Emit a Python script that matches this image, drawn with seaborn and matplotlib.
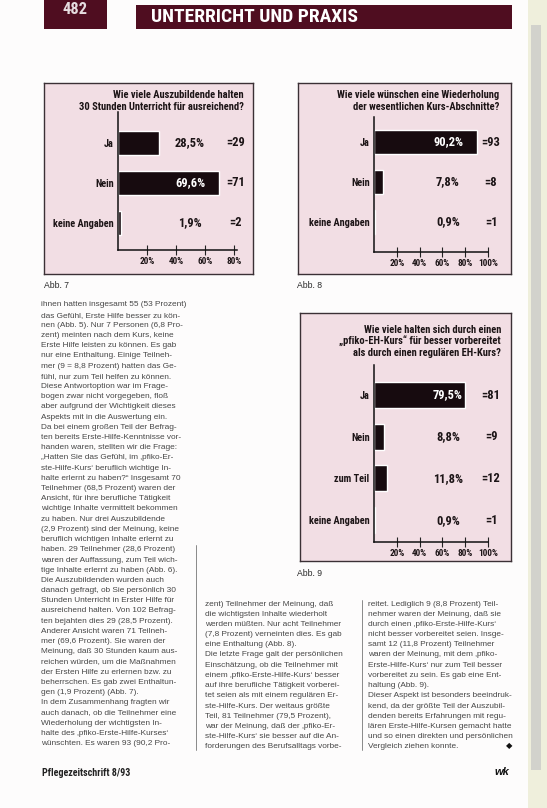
import matplotlib
matplotlib.use("Agg")
import matplotlib.pyplot as plt
import seaborn as sns
import pandas as pd
from matplotlib.patches import Rectangle
from matplotlib.lines import Line2D
from matplotlib import transforms, font_manager
from matplotlib.font_manager import FontProperties

# ______________________ Daten ______________________
abb7_cats = ["Ja", "Nein", "keine Angaben"]
abb7_pct = [28.5, 69.6, 1.9]
abb7_n = [29, 71, 2]
abb7_title = ["Wie viele Auszubildende halten",
              "30 Stunden Unterricht für ausreichend?"]
abb7_ticks = [20, 40, 60, 80]

abb8_cats = ["Ja", "Nein", "keine Angaben"]
abb8_pct = [90.2, 7.8, 0.9]
abb8_n = [93, 8, 1]
abb8_title = ["Wie viele wünschen eine Wiederholung",
              "der wesentlichen Kurs-Abschnitte?"]
abb8_ticks = [20, 40, 60, 80, 100]

abb9_cats = ["Ja", "Nein", "zum Teil", "keine Angaben"]
abb9_pct = [79.5, 8.8, 11.8, 0.9]
abb9_n = [81, 9, 12, 1]
abb9_title = ["Wie viele halten sich durch einen",
              "„pfiko-EH-Kurs“ für besser vorbereitet",
              "als durch einen regulären EH-Kurs?"]
abb9_ticks = [20, 40, 60, 80, 100]

col1 = [
    "ihnen hatten insgesamt 55 (53 Prozent)",
    "das Gefühl, Erste Hilfe besser zu kön-",
    "nen (Abb. 5). Nur 7 Personen (6,8 Pro-",
    "zent) meinten nach dem Kurs, keine",
    "Erste Hilfe leisten zu können. Es gab",
    "nur eine Enthaltung. Einige Teilneh-",
    "mer (9 = 8,8 Prozent) hatten das Ge-",
    "fühl, nur zum Teil helfen zu können.",
    "Diese Antwortoption war im Frage-",
    "bogen zwar nicht vorgegeben, floß",
    "aber aufgrund der Wichtigkeit dieses",
    "Aspekts mit in die Auswertung ein.",
    "Da bei einem großen Teil der Befrag-",
    "ten bereits Erste-Hilfe-Kenntnisse vor-",
    "handen waren, stellten wir die Frage:",
    "„Hatten Sie das Gefühl, im ‚pfiko-Er-",
    "ste-Hilfe-Kurs‘ beruflich wichtige In-",
    "halte erlernt zu haben?“ Insgesamt 70",
    "Teilnehmer (68,5 Prozent) waren der",
    "Ansicht, für ihre berufliche Tätigkeit",
    "wichtige Inhalte vermittelt bekommen",
    "zu haben. Nur drei Auszubildende",
    "(2,9 Prozent) sind der Meinung, keine",
    "beruflich wichtigen Inhalte erlernt zu",
    "haben. 29 Teilnehmer (28,6 Prozent)",
    "waren der Auffassung, zum Teil wich-",
    "tige Inhalte erlernt zu haben (Abb. 6).",
    "Die Auszubildenden wurden auch",
    "danach gefragt, ob Sie persönlich 30",
    "Stunden Unterricht in Erster Hilfe für",
    "ausreichend halten. Von 102 Befrag-",
    "ten bejahten dies 29 (28,5 Prozent).",
    "Anderer Ansicht waren 71 Teilneh-",
    "mer (69,6 Prozent). Sie waren der",
    "Meinung, daß 30 Stunden kaum aus-",
    "reichen würden, um die Maßnahmen",
    "der Ersten Hilfe zu erlernen bzw. zu",
    "beherrschen. Es gab zwei Enthaltun-",
    "gen (1,9 Prozent) (Abb. 7).",
    "In dem Zusammenhang fragten wir",
    "auch danach, ob die Teilnehmer eine",
    "Wiederholung der wichtigsten In-",
    "halte des ‚pfiko-Erste-Hilfe-Kurses‘",
    "wünschten. Es waren 93 (90,2 Pro-",
]
col2 = [
    "zent) Teilnehmer der Meinung, daß",
    "die wichtigsten Inhalte wiederholt",
    "werden müßten. Nur acht Teilnehmer",
    "(7,8 Prozent) verneinten dies. Es gab",
    "eine Enthaltung (Abb. 8).",
    "Die letzte Frage galt der persönlichen",
    "Einschätzung, ob die Teilnehmer mit",
    "einem ‚pfiko-Erste-Hilfe-Kurs‘ besser",
    "auf ihre berufliche Tätigkeit vorberei-",
    "tet seien als mit einem regulären Er-",
    "ste-Hilfe-Kurs. Der weitaus größte",
    "Teil, 81 Teilnehmer (79,5 Prozent),",
    "war der Meinung, daß der ‚pfiko-Er-",
    "ste-Hilfe-Kurs‘ sie besser auf die An-",
    "forderungen des Berufsalltags vorbe-",
]
col3 = [
    "reitet. Lediglich 9 (8,8 Prozent) Teil-",
    "nehmer waren der Meinung, daß sie",
    "durch einen ‚pfiko-Erste-Hilfe-Kurs‘",
    "nicht besser vorbereitet seien. Insge-",
    "samt 12 (11,8 Prozent) Teilnehmer",
    "waren der Meinung, mit dem ‚pfiko-",
    "Erste-Hilfe-Kurs‘ nur zum Teil besser",
    "vorbereitet zu sein. Es gab eine Ent-",
    "haltung (Abb. 9).",
    "Dieser Aspekt ist besonders beeindruk-",
    "kend, da der größte Teil der Auszubil-",
    "denden bereits Erfahrungen mit regu-",
    "lären Erste-Hilfe-Kursen gemacht hatte",
    "und so einen direkten und persönlichen",
    "Vergleich ziehen konnte.",
]

# ______________________ Stil ______________________
W, H = 547, 808
MAROON = "#4f0d20"
PINK = "#f2dee4"
BAR = "#170b0f"
INK = "#1c1416"

sns.set_theme(style="white")
plt.rcParams["font.family"] = ["Liberation Sans", "DejaVu Sans"]

_names = {f.name for f in font_manager.fontManager.ttflist}
for _fam in ["Liberation Sans Narrow", "Roboto Condensed", "Roboto", "Liberation Sans"]:
    if _fam in _names:
        COND = FontProperties(family=_fam, weight="bold")
        break
else:
    COND = FontProperties(family="DejaVu Sans", weight="bold")

fig = plt.figure(figsize=(W / 100, H / 100), dpi=100)
fig.patch.set_facecolor("#fdfcfc")
renderer = fig.canvas.get_renderer()


def fit_size(s, target_px, fp=COND):
    # Schriftgröße so wählen, dass der Text etwa die Breite aus der Vorlage hat
    p = fp.copy()
    p.set_size(10)
    t = fig.text(0, 0, s, fontproperties=p)
    w = t.get_window_extent(renderer).width
    t.remove()
    return 10 * target_px / w


TITLE_FS = fit_size("30 Stunden Unterricht für ausreichend?", 166)
CAT_FS = fit_size("keine Angaben", 61)
PCT_FS = fit_size("28,5%", 30)
TICK_FS = fit_size("100%", 20)
HEAD_FS = fit_size("UNTERRICHT UND PRAXIS", 206)
FOOT_FS = fit_size("Pflegezeitschrift 8/93", 88)


def fp(size):
    p = COND.copy()
    p.set_size(size)
    return p


def fx(x):
    return x / W


def fy(y):
    return 1 - y / H


def rect(x0, y0, x1, y1, color):
    fig.add_artist(Rectangle((fx(x0), fy(y1)), (x1 - x0) / W, (y1 - y0) / H,
                             transform=fig.transFigure, facecolor=color,
                             edgecolor="none", lw=0))


def txt(x, y, s, **kw):
    fig.text(fx(x), fy(y), s, **kw)


def vline(x, y0, y1, color="#777777", lw=0.6):
    fig.add_artist(Line2D([fx(x), fx(x)], [fy(y0), fy(y1)],
                          transform=fig.transFigure, color=color, lw=lw))


def axes_px(x0, y0, x1, y1):
    return fig.add_axes([fx(x0), fy(y1), (x1 - x0) / W, (y1 - y0) / H])


# ______________________ Balkendiagramm ______________________
def draw_chart(cats, pct, n, title, ticks, box, title_x, title_y, title_step,
               x0, ppp, xmax, y_first, y_step, ax_top, ax_bot, pct_x, n_x,
               abb, abb_xy):
    bg = axes_px(*box)
    bg.set_facecolor(PINK)
    bg.set_xticks([])
    bg.set_yticks([])
    for sp in bg.spines.values():
        sp.set_color("#3b3035")
        sp.set_linewidth(1.0)

    for i, line in enumerate(title):
        txt(title_x, title_y + i * title_step, line, ha="right", va="center",
            fontproperties=fp(TITLE_FS), color=INK)

    lo = (ax_top - y_first) / y_step
    hi = (ax_bot - y_first) / y_step
    ax = axes_px(x0, ax_top, x0 + xmax * ppp, ax_bot)
    df = pd.DataFrame({"cat": cats, "pct": pct})
    sns.barplot(data=df, x="pct", y="cat", orient="h", color=BAR,
                saturation=1, width=0.62, errorbar=None, ax=ax)
    ax.set_xlim(0, xmax)
    ax.set_ylim(hi, lo)
    ax.set_facecolor("none")
    ax.grid(False)
    ax.set_xlabel("")
    ax.set_ylabel("")
    ax.spines["top"].set_visible(False)
    ax.spines["right"].set_visible(False)
    for s in ("left", "bottom"):
        ax.spines[s].set_color("#111111")
        ax.spines[s].set_linewidth(1.1)

    ax.set_xticks(ticks)
    ax.set_xticklabels([f"{t}%" for t in ticks])
    for lbl in ax.get_xticklabels():
        lbl.set_fontproperties(fp(TICK_FS))
        lbl.set_color(INK)
    ax.tick_params(axis="x", bottom=True, direction="inout", length=7,
                   width=0.8, color="#222222", pad=1.5)
    ax.tick_params(axis="y", left=False, length=0, pad=3.2)
    for lbl in ax.get_yticklabels():
        lbl.set_fontproperties(fp(CAT_FS))
        lbl.set_color(INK)

    tr = transforms.blended_transform_factory(fig.transFigure, ax.transData)
    for i, (p, k) in enumerate(zip(pct, n)):
        inside = x0 + p * ppp > pct_x + 16
        ax.text(fx(pct_x), i, f"{p:.1f}%".replace(".", ","), transform=tr,
                ha="center", va="center", fontproperties=fp(PCT_FS),
                color="white" if inside else INK, clip_on=False)
        ax.text(fx(n_x), i, f"={k}", transform=tr, ha="center", va="center",
                fontproperties=fp(PCT_FS), color=INK, clip_on=False)

    txt(abb_xy[0], abb_xy[1], abb, ha="left", va="center", fontsize=6.2,
        color="#2a2a2a")


draw_chart(abb7_cats, abb7_pct, abb7_n, abb7_title, abb7_ticks,
           box=(44, 83, 253, 274), title_x=244, title_y=95, title_step=12,
           x0=118, ppp=1.45, xmax=82, y_first=143, y_step=40,
           ax_top=112, ax_bot=250, pct_x=190, n_x=236,
           abb="Abb. 7", abb_xy=(44, 285))

draw_chart(abb8_cats, abb8_pct, abb8_n, abb8_title, abb8_ticks,
           box=(298, 83, 511, 274), title_x=499, title_y=95, title_step=12.5,
           x0=374, ppp=1.14, xmax=100, y_first=142, y_step=40,
           ax_top=117, ax_bot=252, pct_x=448, n_x=491,
           abb="Abb. 8", abb_xy=(297, 285))

draw_chart(abb9_cats, abb9_pct, abb9_n, abb9_title, abb9_ticks,
           box=(300, 313, 511, 561), title_x=501, title_y=330, title_step=11.7,
           x0=374, ppp=1.14, xmax=100, y_first=395, y_step=41.7,
           ax_top=365, ax_bot=542, pct_x=448, n_x=491,
           abb="Abb. 9", abb_xy=(297, 573))

# ______________________ Kopfzeile ______________________
rect(44, 0, 107, 29, MAROON)
txt(75, 9, "482", ha="center", va="center", color="#e6dcdf",
    fontproperties=fp(HEAD_FS * 0.85))
rect(136, 5, 512, 29, MAROON)
txt(151, 17, "UNTERRICHT UND PRAXIS", ha="left", va="center", color="white",
    fontproperties=fp(HEAD_FS))

# ______________________ Fließtext ______________________
LS = 10.2
TXT_COL = "#474747"
BODY_FS = 5.95
for i, line in enumerate(col1):
    txt(41, 305 + i * LS, line, ha="left", va="center", fontsize=BODY_FS,
        color=TXT_COL)
for i, line in enumerate(col2):
    txt(205, 604 + i * LS, line, ha="left", va="center", fontsize=BODY_FS,
        color=TXT_COL)
for i, line in enumerate(col3):
    txt(368, 604 + i * LS, line, ha="left", va="center", fontsize=BODY_FS,
        color=TXT_COL)
txt(512, 746, "◆", ha="right", va="center", fontsize=6,
    family=["DejaVu Sans"], color="#111111")

vline(196, 545, 750)
vline(362, 600, 750)

# ______________________ Fußzeile / Rand ______________________
txt(42, 773, "Pflegezeitschrift 8/93", ha="left", va="center",
    fontproperties=fp(FOOT_FS), color="#222222")
txt(502, 772, "wk", ha="center", va="center", fontsize=8, fontweight="bold",
    fontstyle="italic", color="#111111")

rect(528, 0, 547, 808, "#efefdc")
rect(531, 25, 541, 770, "#d2d2cc")

fig.savefig("out.png", dpi=100, facecolor=fig.get_facecolor())
